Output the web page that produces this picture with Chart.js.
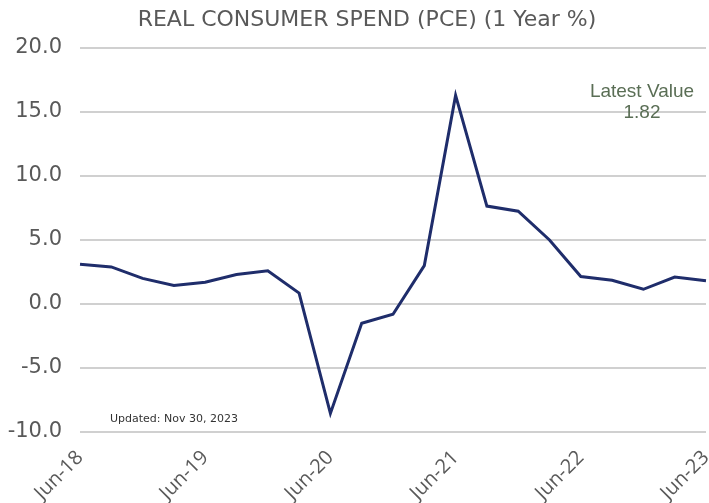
<!DOCTYPE html>
<html>
<head>
<meta charset="utf-8">
<script src="https://cdn.jsdelivr.net/npm/chart.js@4"></script>
<style>
  html, body { margin: 0; padding: 0; background: #fff; }
  #wrap { width: 709px; height: 503px; }
</style>
</head>
<body>
<div id="wrap"><canvas id="chart" width="709" height="503"></canvas></div>
<script>
// quarterly, Jun-18 .. Jun-23
var quarters = ['Jun-18', 'Sep-18', 'Dec-18', 'Mar-19', 'Jun-19', 'Sep-19', 'Dec-19',
    'Mar-20', 'Jun-20', 'Sep-20', 'Dec-20', 'Mar-21', 'Jun-21', 'Sep-21', 'Dec-21',
    'Mar-22', 'Jun-22', 'Sep-22', 'Dec-22', 'Mar-23', 'Jun-23'];
var pceYoY = [3.1, 2.9, 2.0, 1.45, 1.7, 2.3, 2.6,
    0.85, -8.55, -1.5, -0.8, 3.0, 16.3, 7.65, 7.25,
    5.0, 2.15, 1.85, 1.15, 2.1, 1.82];
var yTicks = [-10, -5, 0, 5, 10, 15, 20];
var titleText = 'REAL CONSUMER SPEND (PCE) (1 Year %)';
var latestValue = '1.82';
var updatedText = 'Updated: Nov 30, 2023';

var gray = '#595959';

// title + text notes drawn on top of the plot
var notesPlugin = {
    id: 'notes',
    afterDraw: function (chart) {
        var ctx = chart.ctx, a = chart.chartArea;
        ctx.save();
        ctx.textAlign = 'center';
        ctx.textBaseline = 'middle';
        ctx.fillStyle = gray;
        ctx.font = '22px "DejaVu Sans", Verdana, sans-serif';
        ctx.fillText(titleText, 367, 20);

        ctx.fillStyle = '#5a6e55';
        ctx.font = '19px "Liberation Sans", Arial, sans-serif';
        ctx.fillText('Latest Value', 642, 92);
        ctx.fillText(latestValue, 642, 113);

        ctx.textAlign = 'left';
        ctx.fillStyle = '#333';
        ctx.font = '11px "DejaVu Sans", Verdana, sans-serif';
        ctx.fillText(updatedText, a.left + 30, 419);
        ctx.restore();
    }
};

new Chart(document.getElementById('chart'), {
    type: 'line',
    data: {
        labels: quarters,
        datasets: [{
            data: pceYoY,
            borderColor: '#1f2d6b',
            borderWidth: 3,
            pointRadius: 0,
            tension: 0,
            fill: false
        }]
    },
    options: {
        responsive: false,
        animation: false,
        layout: { padding: { top: 48, right: 3, left: 0, bottom: 0 } },
        plugins: {
            legend: { display: false },
            tooltip: { enabled: false },
            title: { display: false }
        },
        scales: {
            x: {
                grid: { display: false, drawTicks: false },
                border: { display: false },
                ticks: {
                    autoSkip: false,
                    minRotation: 45,
                    maxRotation: 45,
                    padding: 14,
                    color: gray,
                    font: { family: '"Open Sans", "Liberation Sans", sans-serif', size: 20 },
                    callback: function (v, i) { return quarters[i].indexOf('Jun') === 0 ? quarters[i] : ''; }
                },
                afterFit: function (s) { s.height = 71; s.paddingLeft = 0; s.paddingRight = 0; }
            },
            y: {
                min: -10,
                max: 20,
                afterBuildTicks: function (s) { s.ticks = yTicks.map(function (v) { return { value: v }; }); },
                grid: { color: '#d0d0d0', lineWidth: 2, drawTicks: false },
                border: { display: false },
                ticks: {
                    padding: 18,
                    color: gray,
                    font: { family: '"DejaVu Sans", Verdana, sans-serif', size: 21 },
                    callback: function (v) { return v.toFixed(1); }
                },
                afterFit: function (s) { s.width = 80; }
            }
        }
    },
    plugins: [notesPlugin]
});
</script>
</body>
</html>
